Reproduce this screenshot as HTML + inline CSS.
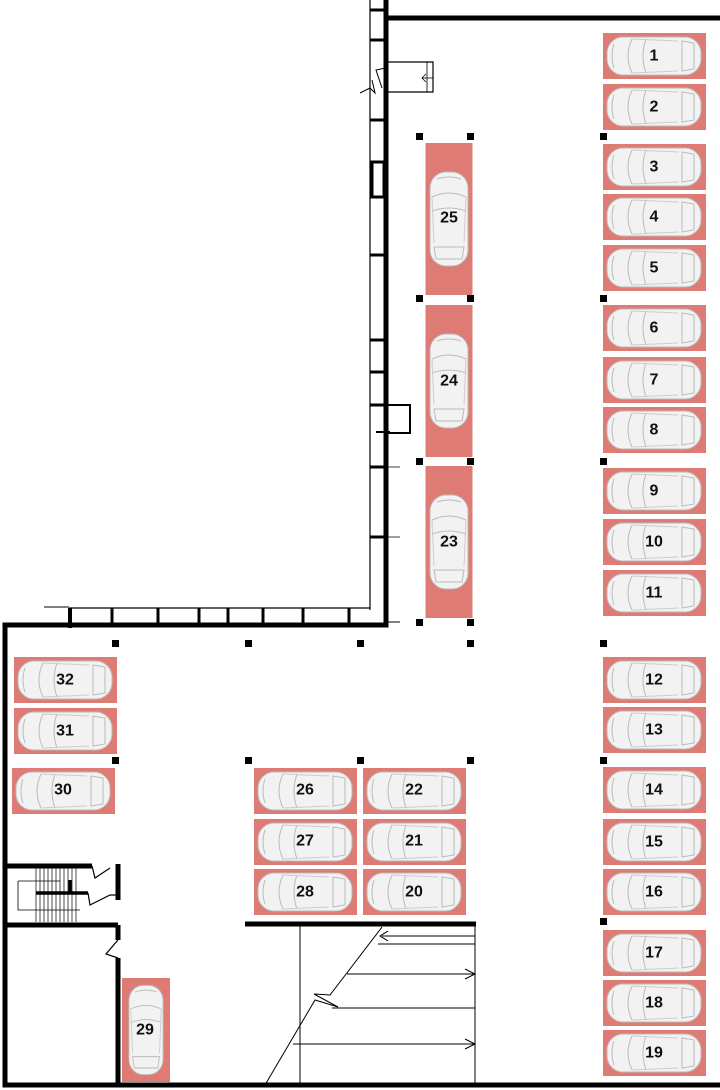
<!DOCTYPE html>
<html><head><meta charset="utf-8"><style>
html,body{margin:0;padding:0;background:#fff}
svg{display:block}
text{font-family:"Liberation Sans",sans-serif;font-weight:bold;font-size:16px;fill:#111;text-anchor:middle;dominant-baseline:central}
</style></head><body>
<svg width="720" height="1090" viewBox="0 0 720 1090" xmlns="http://www.w3.org/2000/svg">
<defs>
<g id="car">
<rect x="-47" y="-19" width="94" height="38" rx="16" fill="#f2f2f2" stroke="#bbb" stroke-width="1"/>
<path d="M-22,-17 Q-30,0 -22,17 M-8,-17 Q-14,0 -8,17 M28,-15 L40,-13 L40,13 L28,15 Z M-40,-12 Q-44,0 -40,12" fill="none" stroke="#bbb" stroke-width="1"/>
<path d="M-22,-17 L24,-15 M-22,17 L24,15" fill="none" stroke="#ccc" stroke-width="1"/>
</g>
<g id="hs"><rect x="-51" y="-23" width="103" height="46" fill="#de7b74"/><use href="#car"/></g>
<g id="vs"><rect x="-23.5" y="-76" width="47" height="152" fill="#de7b74"/><g transform="rotate(90)"><use href="#car"/></g></g>
</defs>

<g fill="none" stroke="#000">
<path d="M386,0 V625 H5 V1085 H720 M386,18 H720" stroke-width="5"/>
<line x1="370" y1="0" x2="370" y2="610" stroke-width="1.2"/>
<line x1="69" y1="608" x2="370" y2="608" stroke-width="1.2"/>
<line x1="44" y1="607" x2="69" y2="607" stroke-width="1"/>
<line x1="386" y1="622" x2="400" y2="622" stroke-width="1"/>
<line x1="70" y1="608" x2="70" y2="628" stroke-width="4"/>
<path d="M112,608V625 M158,608V625 M199,608V625 M228,608V625 M263,608V625 M303,608V625 M349,608V625" stroke-width="3"/>
<path d="M370,10H386 M370,40H386 M370,120H386 M370,255H386 M370,340H386 M370,372H386 M370,405H386 M370,467H386 M370,537H386" stroke-width="3"/>
<rect x="372" y="162" width="12" height="35" stroke-width="3"/>
<path d="M386,405 H410 V433 H386 M376,432 H390" stroke-width="2"/>
<path d="M386,467H400 M386,537H400" stroke-width="0.8"/>
<path d="M386,62 H433 V92 H386" stroke-width="1.2"/>
<path d="M422,78 H433 M426,74 L422,78 L426,82 M427,62V92" stroke-width="0.8"/>
<path d="M386,68 L376,70 L382,88" stroke-width="1"/>
<path d="M360,93 L370,88 L375,93 L372,80" stroke-width="1"/>
<path d="M5,866 H92 M5,925 H118 M118,864 V900 M118,925 V940 M118,958 V1085" stroke-width="5"/>
<path d="M36,893 H88 M70,880 V893" stroke-width="3.5"/>
<path d="M18,881 H60 M18,881 V910 H80" stroke-width="0.8"/>
<path d="M36,868V922 M40,868V922 M44,868V922 M48,868V922 M52,868V922 M56,868V922 M60,868V922 M64,868V922 M68,868V922 M72,868V922 M76,868V922" stroke-width="0.7"/>
<path d="M92,866 L95,878 L110,868 M88,893 L90,905 L110,895 L118,895" stroke-width="1.2"/>
<path d="M118,940 L106,954 L118,958" stroke-width="1.2"/>
<path d="M245,924 H476" stroke-width="5"/>
<g stroke-width="1">
<path d="M300,926 V1085 M475,926 V1085"/>
<path d="M265,1085 L315,1000 L338,1007 L314,994 L330,995 L382,927"/>
<path d="M382,936 H475 M378,944 H475 M347,974 H475 M332,1008 H475 M293,1044 H475"/>
<path d="M388,931 L380,936 L388,941 M465,969 L475,974 L465,979 M465,1039 L475,1044 L465,1049"/>
</g>
</g>

<g fill="#000">
<rect x="600" y="133" width="7" height="7"/><rect x="600" y="295" width="7" height="7"/><rect x="600" y="458" width="7" height="7"/>
<rect x="600" y="640" width="7" height="7"/><rect x="600" y="757" width="7" height="7"/><rect x="600" y="918" width="7" height="7"/>
<rect x="416" y="133" width="7" height="7"/><rect x="467" y="133" width="7" height="7"/>
<rect x="416" y="295" width="7" height="7"/><rect x="467" y="295" width="7" height="7"/>
<rect x="416" y="458" width="7" height="7"/><rect x="467" y="458" width="7" height="7"/>
<rect x="416" y="619" width="7" height="7"/><rect x="467" y="619" width="7" height="7"/>
<rect x="112" y="640" width="7" height="7"/><rect x="245" y="640" width="7" height="7"/><rect x="357" y="640" width="7" height="7"/><rect x="467" y="640" width="7" height="7"/>
<rect x="112" y="757" width="7" height="7"/><rect x="245" y="757" width="7" height="7"/><rect x="357" y="757" width="7" height="7"/><rect x="467" y="757" width="7" height="7"/>
</g>

<g>
<use href="#hs" x="654" y="56"/><text x="654" y="56">1</text>
<use href="#hs" x="654" y="107"/><text x="654" y="107">2</text>
<use href="#hs" x="654" y="167"/><text x="654" y="167">3</text>
<use href="#hs" x="654" y="217"/><text x="654" y="217">4</text>
<use href="#hs" x="654" y="268"/><text x="654" y="268">5</text>
<use href="#hs" x="654" y="328"/><text x="654" y="328">6</text>
<use href="#hs" x="654" y="380"/><text x="654" y="380">7</text>
<use href="#hs" x="654" y="430"/><text x="654" y="430">8</text>
<use href="#hs" x="654" y="491"/><text x="654" y="491">9</text>
<use href="#hs" x="654" y="542"/><text x="654" y="542">10</text>
<use href="#hs" x="654" y="593"/><text x="654" y="593">11</text>
<use href="#hs" x="654" y="680"/><text x="654" y="680">12</text>
<use href="#hs" x="654" y="730"/><text x="654" y="730">13</text>
<use href="#hs" x="654" y="790"/><text x="654" y="790">14</text>
<use href="#hs" x="654" y="842"/><text x="654" y="842">15</text>
<use href="#hs" x="654" y="892"/><text x="654" y="892">16</text>
<use href="#hs" x="654" y="953"/><text x="654" y="953">17</text>
<use href="#hs" x="654" y="1003"/><text x="654" y="1003">18</text>
<use href="#hs" x="654" y="1053"/><text x="654" y="1053">19</text>

<use href="#vs" x="449" y="219"/><text x="449" y="218">25</text>
<use href="#vs" x="449" y="381"/><text x="449" y="381">24</text>
<use href="#vs" x="449" y="542"/><text x="449" y="542">23</text>

<use href="#hs" x="65" y="680"/><text x="65" y="680">32</text>
<use href="#hs" x="65" y="731"/><text x="65" y="731">31</text>
<use href="#hs" x="63" y="791"/><text x="63" y="790">30</text>

<use href="#hs" x="305" y="791"/><text x="305" y="790">26</text>
<use href="#hs" x="305" y="842"/><text x="305" y="841">27</text>
<use href="#hs" x="305" y="892"/><text x="305" y="892">28</text>
<use href="#hs" x="414" y="791"/><text x="414" y="790">22</text>
<use href="#hs" x="414" y="842"/><text x="414" y="841">21</text>
<use href="#hs" x="414" y="892"/><text x="414" y="892">20</text>

<rect x="122" y="978" width="48" height="104" fill="#de7b74"/>
<g transform="translate(146,1030) rotate(90) scale(0.95,0.9)"><use href="#car"/></g>
<text x="145" y="1030">29</text>
</g>
</svg>
</body></html>
